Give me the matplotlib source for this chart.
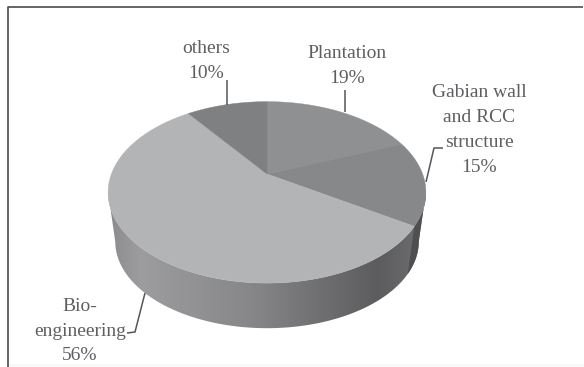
import numpy as np
import matplotlib
matplotlib.use("Agg")
import matplotlib.pyplot as plt
from matplotlib.patches import Polygon, Rectangle
from matplotlib.colors import LinearSegmentedColormap

categories = ["Plantation", "Gabian wall\nand RCC\nstructure", "Bio-\nengineering", "others"]
values = [19, 15, 56, 10]
top_colors = ["#8f9092", "#87888a", "#b3b4b6", "#7f8082"]

W, H = 584, 367
fig = plt.figure(figsize=(W / 100, H / 100), dpi=100)
ax = fig.add_axes([0, 0, 1, 1])
plt.rcParams["font.family"] = ["Liberation Serif"]

CX, CY = 267.0, 174.0
R, K, P = 155.6, 87.0, 0.2025
DEPTH_CY, DEPTH_S = 224.0, 0.955


def proj(theta, cy=CY, s=1.0):
    x, y = np.sin(theta), np.cos(theta)
    d = 1 + P * y
    return CX + s * R * x / d, cy - s * K * y / d


# side wall: outline between the top rim and the lower rim
t = np.linspace(np.radians(101.7), np.radians(258.3), 400)
tx, ty = proj(t)
bx, by = proj(t, DEPTH_CY, DEPTH_S)
side = Polygon(np.r_[np.c_[tx, ty], np.c_[bx, by][::-1]], closed=True, fc="none", ec="none")
ax.add_patch(side)
stops = [(0, "#8b8b8d"), (0.1, "#9d9d9f"), (0.45, "#878789"), (0.85, "#5c5c5e"), (0.96, "#6a6a6c"), (1, "#707072")]
cmap = LinearSegmentedColormap.from_list("side", stops)
grad = np.linspace(0, 1, 256)[None, :]
im = ax.imshow(grad, cmap=cmap, extent=(108, 426, 340, 180), aspect="auto", zorder=1)
im.set_clip_path(side)
ax.set_xlim(0, W)
ax.set_ylim(H, 0)
ax.axis("off")

# top face wedges
edges = np.radians(np.r_[0, np.cumsum(values)] * 3.6)

# dark part of the side wall belonging to the Gabian wedge
t2 = np.linspace(np.radians(101.7), edges[2], 80)
g1 = np.c_[proj(t2)]
g2 = np.c_[proj(t2, DEPTH_CY, DEPTH_S)]
ax.add_patch(Polygon(np.r_[g1, g2[::-1]], closed=True, fc="#4f4f51", ec="none", zorder=2))

for a, b, c in zip(edges[:-1], edges[1:], top_colors):
    th = np.linspace(a, b, 200)
    x, y = proj(th)
    pts = np.r_[[[CX, CY]], np.c_[x, y]]
    ax.add_patch(Polygon(pts, closed=True, fc=c, ec=c, lw=0.3, zorder=3))

# labels
txt = "#5e5f62"
fs = 14
percents = [f"{v}%" for v in values]
for cat, pct, (px, py) in zip(categories, percents, [(347, 66), (479, 130), (80, 331), (206, 61)]):
    ax.text(px, py, f"{cat}\n{pct}", ha="center", va="center", color=txt, fontsize=fs,
            linespacing=1.6, zorder=5)

# leader lines
leaders = [
    ([345, 345], [90, 112]),
    ([227, 227], [80, 105]),
    ([443, 434, 426], [148, 148, 182]),
    ([127, 135, 145], [333, 332, 293]),
]
for lx, ly in leaders:
    ax.plot(lx, ly, color="#55565a", lw=1.1, zorder=4, solid_capstyle="butt")

# frame
ax.plot([8, 8, 583], [H, 7, 7], color="#4c4c4e", lw=1.2, zorder=6, solid_capstyle="butt")
ax.add_patch(Rectangle((8, 364), W - 8, 3, fc="#f8f8f6", ec="none", zorder=0))

fig.savefig("out.png", dpi=100)
